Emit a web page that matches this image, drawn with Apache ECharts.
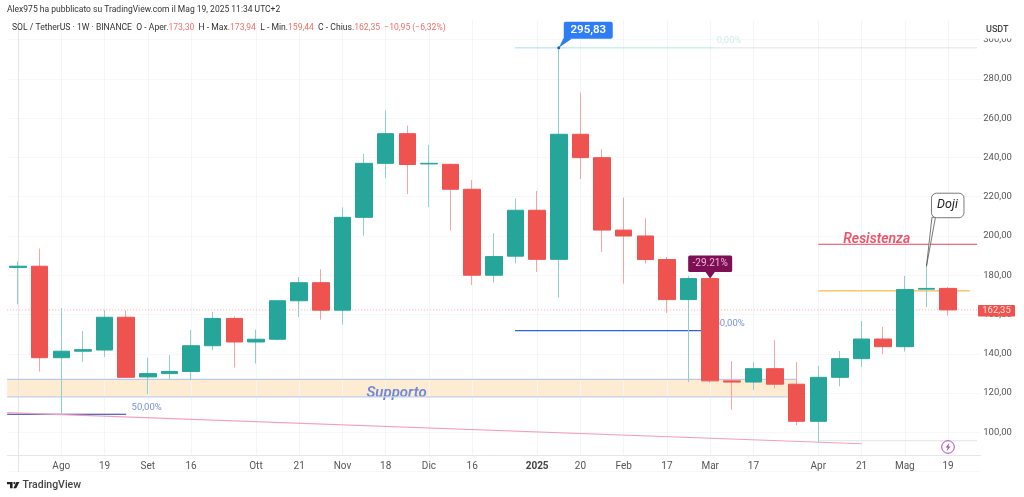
<!DOCTYPE html>
<html><head><meta charset="utf-8">
<style>html,body{margin:0;padding:0;background:#fff}#c{width:1024px;height:497px}</style>
<script src="https://cdn.jsdelivr.net/npm/echarts@6/dist/echarts.min.js"></script>
</head><body><div id="c"></div>
<script>
const xLabels = ['','','Ago','','19','','Set','','16','','','Ott','','21','','Nov','','18','','Dic','','16','','','2025','','20','','Feb','','17','','Mar','','17','','','Apr','','21','','Mag','','19',''];
const opens  = [184.0,184.6,138.0,141.3,141.9,158.6,128.2,129.9,131.0,144.1,158.0,146.0,147.4,167.0,176.2,162.2,209.5,237.0,252.1,236.7,236.5,223.8,180.0,189.7,213.1,188.1,251.8,239.9,203.0,200.0,188.0,167.6,178.3,126.2,125.6,132.4,124.5,105.6,128.0,137.5,147.5,143.6,172.9,173.30];
const closes = [184.6,138.0,141.3,142.1,158.6,128.0,129.9,131.0,144.1,158.0,146.0,147.4,167.0,176.2,162.2,209.5,237.0,252.1,236.4,237.0,223.8,180.0,189.5,213.1,188.1,251.8,239.9,203.0,200.0,188.0,167.6,178.3,126.2,125.6,132.4,124.5,105.6,128.0,137.5,147.5,143.6,172.7,173.3,162.35];
const lows   = [165.2,130.9,109.5,135.8,138.4,127.7,119.4,126.8,126.5,141.8,133.0,135.0,146.9,158.8,157.4,154.9,200.2,229.4,221.4,214.6,202.7,175.0,176.2,186.0,181.7,168.6,229.0,191.9,175.7,186.0,160.8,125.6,125.3,111.5,121.4,122.4,103.6,95.0,123.4,133.3,139.7,141.1,163.8,159.44];
const highs  = [187.0,193.6,163.3,151.6,162.2,162.0,138.0,139.4,152.1,161.3,159.0,152.3,167.4,179.1,183.0,214.6,241.8,263.9,256.2,246.5,236.8,228.5,201.4,219.2,222.9,295.83,273.0,244.2,219.5,209.0,189.3,179.5,178.3,136.3,135.8,146.9,135.8,133.8,141.4,156.7,153.7,179.6,184.6,173.94];
const lastPrice = 162.35;
const supportZone = [118, 127];
const peakLine = [[-0.5,295.83],[44.34,295.83]];
const peakStub = [[22.98,295.83],[25.4,295.83]];
const fibTop = [[25.4,295.83],[32.2,295.83]];
const fibMid = [[22.98,151.8],[31.6,151.8]];
const fibLow = [[-0.5,109.2],[5,109.2]];
const trend = [[-0.5,110],[39,94.2]];
const resistance = [[37,195.8],[44.34,195.8]];
const orange = [[37,172],[44,172]];
const floorLine = [[37,95.7],[44.34,95.7]];
const priceLine = [[-0.5,162.35],[44.34,162.35]];
const tickIdx = xLabels.map((s,i)=>s?i:-1).filter(i=>i>=0);
const yTicks = [100,120,140,160,180,200,220,240,260,280,300];

const F = 'Roboto, sans-serif';
const UP='#26a69a', DN='#ef5350';
const fmt = v => v.toFixed(2).replace('.',',');
const seg = (data,color,width,z,type) => ({type:'line',xAxisIndex:1,yAxisIndex:0,data,showSymbol:false,symbol:'none',silent:true,z:z||1,
  lineStyle:{color,width,type:type||'solid'},animation:false});
const labels = [
  {x:17.5,y:120,t:'Supporto',f:'italic 600 15px '+F,c:'#6f89d6',a:'center'},
  {x:39.7,y:198.2,t:'Resistenza',f:'italic 600 14px '+F,c:'#ef5368',a:'center'},
  {x:5.25,y:112.6,t:'50,00%',f:'9.5px '+F,c:'#7a90dc',a:'left'},
  {x:32.2,y:155.4,t:'50,00%',f:'9.5px '+F,c:'#7a90dc',a:'left'},
  {x:32.3,y:299.4,t:'0,00%',f:'9.5px '+F,c:'#cdeee9',a:'left'}
];
const chart = echarts.init(document.getElementById('c'),null,{renderer:'canvas'});
const gridL=7.2, band=21.63;
chart.setOption({
  animation:false,
  backgroundColor:'#fff',
  grid:{left:gridL,width:band*45,top:0.4,height:471.16},
  xAxis:[
    {type:'category',data:xLabels,position:'bottom',offset:-16.5,
     axisLine:{lineStyle:{color:'#e4e6ea',width:1}},axisTick:{show:false},splitLine:{show:false},
     axisLabel:{interval:0,color:'#555',fontFamily:F,fontSize:10,margin:6,
       formatter:s=>s==='2025'?'{b|2025}':s,rich:{b:{fontWeight:'bold',color:'#444',fontFamily:F,fontSize:10}}}},
    {type:'value',min:-0.5,max:44.5,show:false}
  ],
  yAxis:{type:'value',min:80,max:320,interval:20,position:'right',offset:-3.3,
    axisLine:{show:true,lineStyle:{color:'#e4e6ea'}},axisTick:{show:false},
    splitLine:{show:true,lineStyle:{color:'#f6f7f9',width:1}},
    axisLabel:{color:'#555',fontFamily:F,fontSize:9.5,margin:6,
      formatter:v=>yTicks.includes(v)?fmt(v):''}},
  series:[
    {type:'line',xAxisIndex:1,data:[],silent:true,z:0,
     markLine:{silent:true,z:0,symbol:'none',label:{show:false},lineStyle:{color:'#f4f5f7',width:1,type:'solid'},
       data:tickIdx.map(i=>[{xAxis:i,yAxis:88.5},{xAxis:i,yAxis:310}])}},
    {type:'line',xAxisIndex:1,data:[],silent:true,z:0,
     markArea:{silent:true,z:0,itemStyle:{color:'#fdebd2',borderWidth:0},
       data:[[{xAxis:-0.5,yAxis:supportZone[1]},{xAxis:36,yAxis:supportZone[0]}]]}},
    seg([[-0.5,supportZone[1]],[36,supportZone[1]]],'#b9c9ee',1.2),
    seg([[-0.5,supportZone[0]],[36,supportZone[0]]],'#c3d0ee',1.2),
    seg(peakLine.map(p=>[Math.max(p[0],32.2),p[1]]),'#dfe3ea',1),
    seg(peakStub,'#a9dff0',1),
    seg(fibTop,'#b5e8e2',1),
    seg(fibMid,'#2f62e0',1.2),
    seg(fibLow,'#2b35a8',1.2),
    seg(trend,'#f2a0bd',1.1),
    seg(resistance,'#e5435c',1.2),
    seg(orange,'#f8b84e',1.2),
    seg(floorLine,'#e2e3e6',1),
    seg(priceLine,'#f5a9a8',1,1,[1,2]),
    {type:'custom',xAxisIndex:1,yAxisIndex:0,silent:true,z:1,data:labels.map((l,i)=>[l.x,l.y,i]),
     renderItem:(p,api)=>{const l=labels[api.value(2)],c=api.coord([api.value(0),api.value(1)]);
       return {type:'text',style:{text:l.t,x:c[0],y:c[1],fill:l.c,font:l.f,align:l.a,verticalAlign:'middle'}};}},
    {type:'candlestick',name:'wick',xAxisIndex:0,yAxisIndex:0,barWidth:1,silent:true,z:2,
     data:opens.map((o,i)=>[o,closes[i],lows[i],highs[i]]),
     itemStyle:{color:'#8fd0c9',color0:'#f6a5a3',borderColor:'#8fd0c9',borderColor0:'#f6a5a3',borderWidth:1}},
    {type:'candlestick',name:'SOL / TetherUS',xAxisIndex:0,yAxisIndex:0,barWidth:17,silent:true,z:3,
     data:opens.map((o,i)=>[o,closes[i],Math.min(o,closes[i]),Math.max(o,closes[i])]),
     itemStyle:{color:UP,color0:DN,borderColor:UP,borderColor0:DN,borderWidth:1}},
    {type:'custom',xAxisIndex:1,yAxisIndex:0,silent:true,z:5,data:[[25,295.83,0],[32,178.3,1],[42,184.6,2]],
     renderItem:(p,api)=>{
       const k=api.value(2),c=api.coord([api.value(0),api.value(1)]),X=c[0],Y=c[1];
       if(k===0) return {type:'group',children:[
         {type:'polygon',shape:{points:[[X,Y],[X+5.5,Y-11],[X+13,Y-9]]},style:{fill:'#2e7cf6'}},
         {type:'circle',shape:{cx:X,cy:Y,r:1.5},style:{fill:'#1f5fc0'}},
         {type:'rect',shape:{x:X+5,y:Y-26,width:49,height:17,r:2},style:{fill:'#2e7cf6'}},
         {type:'text',style:{text:'295,83',x:X+29.5,y:Y-17.5,fill:'#fff',font:'600 11.5px '+F,align:'center',verticalAlign:'middle'}}]};
       if(k===1) return {type:'group',children:[
         {type:'polygon',shape:{points:[[X,Y],[X-5,Y-7],[X+5,Y-7]]},style:{fill:'#7f0f55'}},
         {type:'rect',shape:{x:X-22,y:Y-23,width:44,height:16.5,r:1.5},style:{fill:'#7f0f55'}},
         {type:'text',style:{text:'-29.21%',x:X,y:Y-14.6,fill:'#e9b9d3',font:'10px '+F,align:'center',verticalAlign:'middle'}}]};
       return {type:'group',children:[
         {type:'polygon',shape:{points:[[X,Y],[X+5.5,Y-49],[X+9,Y-49]]},style:{fill:'#fff',stroke:'#555',lineWidth:0.8}},
         {type:'rect',shape:{x:X+5,y:Y-73,width:32.5,height:24.5,r:5},style:{fill:'#fff',stroke:'#555',lineWidth:0.8}},
         {type:'text',style:{text:'Doji',x:X+21,y:Y-61,fill:'#222',font:'italic 12.5px '+F,align:'center',verticalAlign:'middle'}}]};
     }}
  ],
  graphic:[
    {type:'rect',z:100,shape:{x:0,y:0,width:1024,height:20},style:{fill:'#fff'},silent:true},
    {type:'rect',z:100,shape:{x:978,y:0,width:46,height:38.5},style:{fill:'#fff'},silent:true},
    {type:'rect',z:100,shape:{x:0,y:0,width:6.8,height:497},style:{fill:'#fff'},silent:true},
    {type:'text',z:101,x:7,y:5.5,style:{text:'Alex975 ha pubblicato su TradingView.com il Mag 19, 2025 11:34 UTC+2',fill:'#333',font:'8.5px '+F}},
    {type:'text',z:101,x:12,y:23.5,style:{
      text:'{k|SOL / TetherUS · 1W · BINANCE  O - Aper.}{v|173,30}{k|  H - Max.}{v|173,94}{k|  L - Min.}{v|159,44}{k|  C - Chius.}{v|162,35}{v|  −10,95 (−6,32%)}',
      rich:{k:{fill:'#333',font:'8.6px '+F},v:{fill:'#f0716e',font:'8.6px '+F}}}},
    {type:'text',z:101,x:986,y:25,style:{text:'USDT',fill:'#444',font:'500 9px '+F}},
    {type:'rect',z:101,shape:{x:978,y:305,width:37,height:11.5,r:1},style:{fill:'#ef5350'},silent:true},
    {type:'text',z:102,x:996.5,y:310.8,style:{text:fmt(lastPrice),fill:'#fbdcdc',font:'9.5px '+F,align:'center',verticalAlign:'middle'}},
    {type:'circle',z:101,shape:{cx:948,cy:447,r:6.3},style:{fill:'#fff',stroke:'#ab47bc',lineWidth:1}},
    {type:'polygon',z:102,shape:{points:[[949.5,442.8],[945.6,447.6],[947.8,447.6],[946.6,451.2],[950.5,446.4],[948.3,446.4]]},style:{fill:'#ab47bc'}},
    {type:'polygon',z:101,shape:{points:[[7,482],[12.6,482],[12.6,488.3],[10,488.3],[10,484.2],[7,484.2]]},style:{fill:'#222'}},
    {type:'circle',z:101,shape:{cx:14.4,cy:483.1,r:1.1},style:{fill:'#222'}},
    {type:'polygon',z:101,shape:{points:[[16.4,482],[19.4,482],[16.2,488.3],[13.4,488.3]]},style:{fill:'#222'}},
    {type:'text',z:101,x:22.5,y:480,style:{text:'TradingView',fill:'#444',font:'500 10.5px '+F}}
  ]
});
</script></body></html>
